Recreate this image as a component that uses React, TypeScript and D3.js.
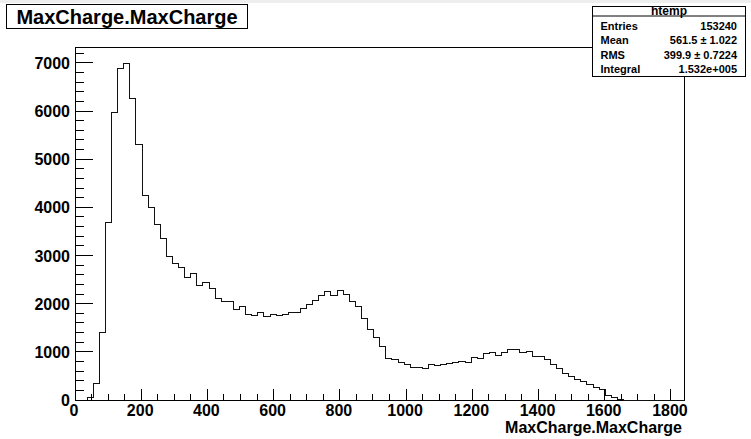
import React from "react";
import * as d3 from "d3";

const W = 751;
const H = 439;

// histogram definition
const xRange = [0, 1841];
const binCounts = [
  0, 0, 45, 339, 1392, 3690, 5962, 6876, 6980, 6267,
  5305, 4242, 4000, 3640, 3362, 2981, 2836, 2742, 2534, 2628,
  2368, 2437, 2320, 2112, 2048, 2048, 1870, 1939, 1780, 1745,
  1818, 1735, 1770, 1758, 1776, 1821, 1821, 1890, 1973, 2068,
  2170, 2247, 2163, 2282, 2181, 2047, 1939, 1697, 1461, 1302,
  1115, 860, 831, 775, 727, 685, 665, 655, 741, 706,
  735, 750, 778, 789, 775, 875, 858, 958, 976, 932,
  980, 1046, 1046, 980, 1000, 893, 893, 835, 745, 655,
  560, 495, 433, 378, 332, 258, 221, 100, 48, 12,
  0, 0, 0, 0, 0, 0, 0, 0, 0, 0,
];
const yMax = 7329;

const xMajorTicks = [0, 200, 400, 600, 800, 1000, 1200, 1400, 1600, 1800];
const xMinorStep = 50;
const yMajorTicks = [0, 1000, 2000, 3000, 4000, 5000, 6000, 7000];
const yMinorStep = 200;

const titleText = "MaxCharge.MaxCharge";
const xAxisTitle = "MaxCharge.MaxCharge";
const statsName = "htemp";
const statsLabels = ["Entries", "Mean", "RMS", "Integral"];
const statsValues = ["153240", "561.5 \u00b1  1.022", "399.9 \u00b1 0.7224", "1.532e+005"];

const FONT = "'Liberation Sans', Arial, Helvetica, sans-serif";

export default function App() {
  const frame = { left: 75, right: 684.5, top: 47, bottom: 400 };
  const x = d3.scaleLinear().domain(xRange).range([frame.left, frame.right]);
  const y = d3.scaleLinear().domain([0, yMax]).range([frame.bottom, frame.top]);

  const n = binCounts.length;
  const bw = (xRange[1] - xRange[0]) / n;
  const pts: [number, number][] = [[xRange[0], 0]];
  binCounts.forEach((v, i) => pts.push([xRange[0] + i * bw, v]));
  pts.push([xRange[1], binCounts[n - 1]]);
  pts.push([xRange[1], 0]);
  const line = d3
    .line<[number, number]>()
    .x((d) => x(d[0]))
    .y((d) => y(d[1]))
    .curve(d3.curveStepAfter);
  const histPath = line(pts) || "";

  const xMinor = d3.range(0, xRange[1] + 0.001, xMinorStep).filter((v) => v % 200 !== 0);
  const yMinor = d3.range(0, yMax + 0.001, yMinorStep).filter((v) => v % 1000 !== 0);

  const stats = { left: 592.5, right: 745.5, top: 6.5, bottom: 76.5, headerLine: 16 };

  return (
    <svg
      width={W}
      height={H}
      style={{ position: "absolute", left: 0, top: 0, background: "#fff" }}
      fontFamily={FONT}
    >
      <rect x={0} y={0} width={W} height={H} fill="#fff" />
      <rect x={0} y={0} width={W} height={3} fill="#eeeeee" />

      {/* frame */}
      <rect
        x={frame.left}
        y={frame.top}
        width={frame.right - frame.left}
        height={frame.bottom - frame.top}
        fill="none"
        stroke="#000"
        strokeWidth={1}
        shapeRendering="crispEdges"
      />

      {/* histogram */}
      <path d={histPath} fill="none" stroke="#111" strokeWidth={1} shapeRendering="crispEdges" />

      {/* ticks */}
      <g stroke="#000" strokeWidth={1} shapeRendering="crispEdges">
        {xMajorTicks.map((t) => (
          <line key={"xm" + t} x1={x(t)} x2={x(t)} y1={frame.bottom} y2={frame.bottom - 11} />
        ))}
        {xMinor.map((t) => (
          <line key={"xn" + t} x1={x(t)} x2={x(t)} y1={frame.bottom} y2={frame.bottom - 6} />
        ))}
        {yMajorTicks.map((t) => (
          <line key={"ym" + t} x1={frame.left} x2={frame.left + 18} y1={y(t)} y2={y(t)} />
        ))}
        {yMinor.map((t) => (
          <line key={"yn" + t} x1={frame.left} x2={frame.left + 9} y1={y(t)} y2={y(t)} />
        ))}
      </g>

      {/* tick labels */}
      <g fontSize={16} fontWeight="bold" fill="#000">
        {xMajorTicks.map((t) => (
          <text key={"xl" + t} x={x(t) - 1} y={416} textAnchor="middle">
            {t}
          </text>
        ))}
        {yMajorTicks.map((t) => (
          <text key={"yl" + t} x={70} y={y(t) + 6} textAnchor="end">
            {t}
          </text>
        ))}
      </g>

      {/* x axis title */}
      <text x={682} y={433} textAnchor="end" fontSize={16} fontWeight="bold" fill="#000">
        {xAxisTitle}
      </text>

      {/* title box */}
      <rect x={6.5} y={4.5} width={241} height={24} fill="#fff" stroke="#000" strokeWidth={1} />
      <text x={127} y={24} textAnchor="middle" fontSize={20} fontWeight="bold" fill="#000">
        {titleText}
      </text>

      {/* stats box */}
      <rect
        x={stats.left}
        y={stats.top}
        width={stats.right - stats.left}
        height={stats.bottom - stats.top}
        fill="#fff"
        stroke="#000"
        strokeWidth={1}
      />
      <line x1={stats.left} x2={stats.right} y1={stats.headerLine} y2={stats.headerLine} stroke="#000" strokeWidth={1} />
      <text
        x={(stats.left + stats.right) / 2}
        y={14.5}
        textAnchor="middle"
        fontSize={12}
        fontWeight="bold"
        fill="#000"
      >
        {statsName}
      </text>
      {statsLabels.map((l, i) => (
        <g key={l} fontSize={11} fontWeight="bold" fill="#000">
          <text x={600.5} y={30 + i * 14.4}>
            {l}
          </text>
          <text x={737} y={30 + i * 14.4} textAnchor="end">
            {statsValues[i]}
          </text>
        </g>
      ))}
    </svg>
  );
}
